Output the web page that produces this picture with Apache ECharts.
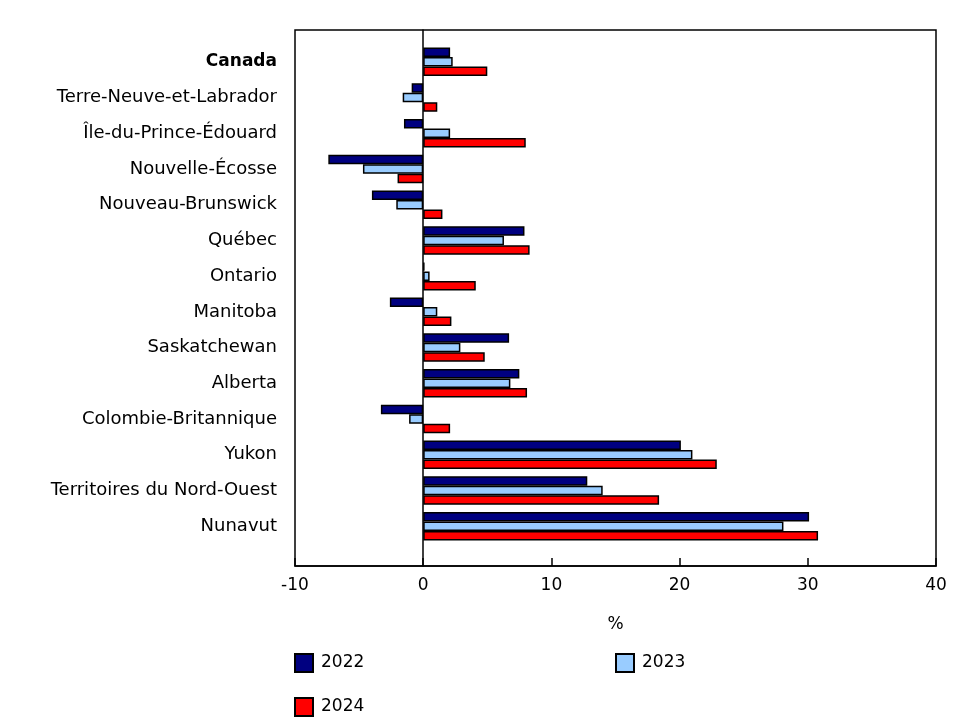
<!DOCTYPE html>
<html>
<head>
<meta charset="utf-8">
<script src="https://cdn.jsdelivr.net/npm/echarts@6/dist/echarts.min.js"></script>
<style>
html,body{margin:0;padding:0;background:#fff;}
#chart{width:978px;height:727px;}
</style>
</head>
<body>
<div id="chart"></div>
<script>
var categories = ["Canada","Terre-Neuve-et-Labrador","Île-du-Prince-Édouard","Nouvelle-Écosse","Nouveau-Brunswick","Québec","Ontario","Manitoba","Saskatchewan","Alberta","Colombie-Britannique","Yukon","Territoires du Nord-Ouest","Nunavut"];
var values2022 = [2.1,-0.9,-1.5,-7.4,-4.0,7.9,0.1,-2.6,6.7,7.5,-3.3,20.1,12.8,30.1];
var values2023 = [2.3,-1.6,2.1,-4.7,-2.1,6.3,0.5,1.1,2.9,6.8,-1.1,21.0,14.0,28.1];
var values2024 = [5.0,1.1,8.0,-2.0,1.5,8.3,4.1,2.2,4.8,8.1,2.1,22.9,18.4,30.8];
var seriesNames = ["2022","2023","2024"];
var xTicks = {min:-10,max:40,interval:10};

var FONT = "DejaVu Sans";
var chart = echarts.init(document.getElementById('chart'));
function bar(name, data, color){
  return {name:name,type:'bar',xAxisIndex:1,yAxisIndex:1,data:data,barWidth:9.5,barGap:'0%',
    itemStyle:{color:color,borderColor:'#000',borderWidth:1.5},animation:false};
}
chart.setOption({
  animation:false,
  textStyle:{fontFamily:FONT},
  grid:[
    {left:295,right:42,top:30,bottom:161,show:true,borderColor:'#000',borderWidth:1.5,backgroundColor:'transparent'},
    {left:295,right:42,top:44,bottom:183}
  ],
  xAxis:[
    {gridIndex:0,type:'value',min:xTicks.min,max:xTicks.max,interval:xTicks.interval,
     axisLine:{show:true,lineStyle:{color:'#000',width:1.5}},
     axisTick:{show:true,inside:true,length:8,lineStyle:{color:'#000',width:1.5}},
     axisLabel:{fontSize:17,color:'#000',fontFamily:FONT,margin:11},
     splitLine:{show:false},
     name:'%',nameLocation:'middle',nameGap:50,nameTextStyle:{fontSize:17,color:'#000',fontFamily:FONT}},
    {gridIndex:1,type:'value',min:xTicks.min,max:xTicks.max,interval:xTicks.interval,show:false,splitLine:{show:false}}
  ],
  yAxis:[
    {gridIndex:0,type:'value',min:0,max:1,axisLine:{show:true,onZero:true,lineStyle:{color:'#000',width:1.5}},
     axisTick:{show:false},axisLabel:{show:false},splitLine:{show:false}},
    {gridIndex:1,type:'category',inverse:true,data:categories,
     axisLine:{show:false},axisTick:{show:false},splitLine:{show:false},
     axisLabel:{fontSize:18,color:'#000',fontFamily:FONT,margin:18,
       formatter:function(v){return v==='Canada'?'{b|'+v+'}':v;},
       rich:{b:{fontWeight:'bold',fontSize:17,fontFamily:FONT,color:'#000'}}}}
  ],
  legend:[
    {data:[seriesNames[0]],left:294,top:653,padding:0,itemWidth:18,itemHeight:18,icon:'rect',textStyle:{fontSize:17,color:'#000',fontFamily:FONT,padding:[0,0,0,3]}},
    {data:[seriesNames[1]],left:615,top:653,padding:0,itemWidth:18,itemHeight:18,icon:'rect',textStyle:{fontSize:17,color:'#000',fontFamily:FONT,padding:[0,0,0,3]}},
    {data:[seriesNames[2]],left:294,top:697,padding:0,itemWidth:18,itemHeight:18,icon:'rect',textStyle:{fontSize:17,color:'#000',fontFamily:FONT,padding:[0,0,0,3]}}
  ],
  series:[
    bar(seriesNames[0],values2022,'#000080'),
    bar(seriesNames[1],values2023,'#99CCFF'),
    bar(seriesNames[2],values2024,'#FF0000')
  ]
});
</script>
</body>
</html>
